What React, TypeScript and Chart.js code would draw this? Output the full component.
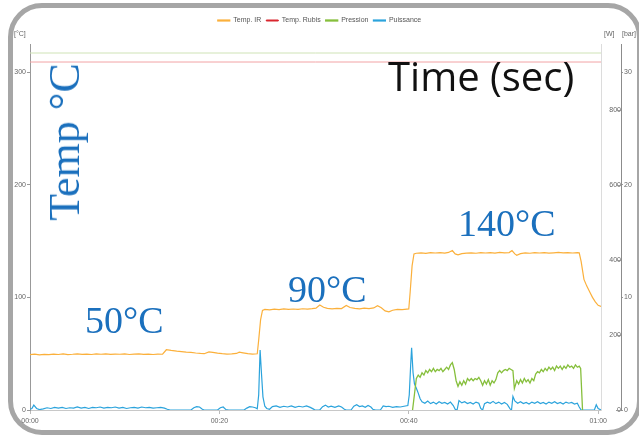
import React, { useEffect, useRef } from "react";
import { Chart, registerables } from "chart.js";

Chart.register(...registerables);

const FONT = "'Liberation Sans', Arial, sans-serif";

// time axis (seconds) and tick labels
const timeTickValues = [0, 20, 40, 60];
const timeTickLabels = ["00:00", "00:20", "00:40", "01:00"];
const tempTickValues = [0, 100, 200, 300];
const powerTickValues = [0, 200, 400, 600, 800];
const pressureTickValues = [0, 10, 20, 30];

const seriesLabels = ["Temp. IR", "Temp. Rubis", "Pression", "Puissance"];
const legendColors = ["#fbb03b", "#d9262e", "#86bf3c", "#2ba3dc"];

// [time s, °C]
const tempIR: [number, number][] = [
  [0, 49.2], [0.5, 49.6], [1, 48.9], [1.5, 49.4], [2, 49.1], [2.5, 49.6], [3, 49.3], [3.5, 49.8], [4, 49.2], [4.5, 49.5],
  [5, 49.9], [5.5, 49.4], [6, 49.7], [6.5, 49.3], [7, 49.8], [7.5, 49.5], [8, 49.9], [8.5, 49.4], [9, 49.7], [9.5, 49.5],
  [10, 49.8], [10.5, 49.3], [11, 49.6], [11.5, 49.9], [12, 49.4], [12.5, 49.7], [13, 49.3], [13.5, 49.6], [14, 49.5],
  [14.4, 53.5], [14.9, 52.9], [15.5, 52.3], [16, 51.9], [16.5, 51.4], [17, 51.1], [17.5, 50.6], [18, 50.2], [18.4, 50.0],
  [18.9, 51.6], [19.3, 51.2], [19.8, 50.5], [20.3, 50.0], [20.8, 49.6], [21.3, 49.8], [21.8, 50.2], [22.1, 51.4],
  [22.5, 50.8], [23, 50.1], [23.5, 49.6], [24, 49.9], [24.15, 62], [24.35, 80], [24.55, 88.5], [24.8, 89.3],
  [25.3, 89.0], [25.8, 89.6], [26.3, 89.2], [26.8, 89.8], [27.3, 89.4], [27.8, 89.7], [28.3, 89.3], [28.8, 89.9],
  [29.3, 89.6], [29.8, 90.0], [30.2, 90.4], [30.6, 93.2], [31.0, 91.2], [31.4, 90.2], [31.9, 89.8], [32.4, 90.3],
  [32.9, 90.1], [33.4, 92.8], [33.8, 91.0], [34.3, 90.2], [34.8, 89.8], [35.3, 90.4], [35.8, 90.1], [36.3, 90.6],
  [36.7, 92.6], [37.1, 90.8], [37.5, 88.0], [37.9, 87.2], [38.3, 88.6], [38.8, 89.4], [39.3, 89.2], [39.8, 89.6],
  [40.0, 89.7], [40.15, 105], [40.35, 128], [40.55, 138.5], [40.8, 139.2], [41.3, 139.5], [41.8, 139.1], [42.3, 139.7],
  [42.8, 139.4], [43.3, 139.8], [43.8, 139.3], [44.2, 139.9], [44.6, 141.6], [44.9, 138.6], [45.2, 137.8], [45.6, 138.9],
  [46.1, 139.3], [46.6, 139.6], [47.1, 139.2], [47.6, 139.8], [48.1, 139.4], [48.6, 139.7], [49.1, 139.3], [49.6, 139.9],
  [50.1, 139.5], [50.6, 139.8], [50.9, 141.6], [51.2, 138.6], [51.4, 137.4], [51.8, 138.9], [52.3, 139.5], [52.8, 139.2],
  [53.3, 139.7], [53.8, 139.4], [54.3, 139.8], [54.8, 139.3], [55.3, 139.6], [55.8, 139.9], [56.3, 139.5], [56.8, 139.8],
  [57.3, 139.4], [57.8, 139.7], [58.0, 139.5], [58.2, 132], [58.5, 116], [58.8, 110], [59.1, 105], [59.4, 100],
  [59.7, 96], [60.0, 93], [60.3, 92],
];

// [time s, °C]
const tempRubis: [number, number][] = [[0, 309], [60.3, 309]];

// [time s, bar]
const pressionTop: [number, number][] = [[0, 31.7], [60.3, 31.7]];
const pression: [number, number][] = [
  [40.4, 0], [40.6, 1.4], [40.8, 2.8], [41.0, 3.1], [41.2, 2.9], [41.4, 3.3], [41.6, 3.1], [41.8, 3.5], [42.0, 3.3],
  [42.2, 3.6], [42.4, 3.4], [42.6, 3.7], [42.8, 3.4], [43.0, 3.6], [43.2, 3.5], [43.4, 3.7], [43.6, 3.4], [43.8, 3.6],
  [44.0, 3.8], [44.2, 3.6], [44.4, 4.0], [44.6, 4.2], [44.8, 3.6], [45.0, 2.6], [45.2, 2.1], [45.4, 2.5], [45.6, 2.2],
  [45.8, 2.6], [46.0, 2.3], [46.2, 2.8], [46.4, 2.6], [46.6, 2.8], [46.8, 2.6], [47.0, 2.8], [47.2, 2.7], [47.4, 2.9],
  [47.6, 2.6], [47.8, 2.2], [48.0, 2.6], [48.2, 2.3], [48.4, 2.7], [48.6, 2.2], [48.8, 2.6], [49.0, 2.4], [49.2, 2.7],
  [49.4, 3.3], [49.6, 3.5], [49.8, 3.3], [50.0, 3.5], [50.2, 3.6], [50.4, 3.5], [50.6, 3.7], [50.8, 3.6], [51.0, 3.5],
  [51.15, 1.9], [51.4, 2.6], [51.6, 2.3], [51.8, 2.7], [52.0, 2.4], [52.2, 2.8], [52.4, 2.5], [52.6, 2.7], [52.8, 2.4],
  [53.0, 2.8], [53.2, 2.6], [53.4, 3.2], [53.6, 3.4], [53.8, 3.3], [54.0, 3.6], [54.2, 3.4], [54.4, 3.7], [54.6, 3.5],
  [54.8, 3.8], [55.0, 3.6], [55.2, 3.8], [55.4, 3.5], [55.6, 3.9], [55.8, 3.7], [56.0, 3.9], [56.2, 3.6], [56.4, 3.9],
  [56.6, 3.7], [56.8, 4.0], [57.0, 3.8], [57.2, 3.9], [57.4, 3.7], [57.6, 4.0], [57.8, 3.8], [58.0, 3.9], [58.15, 3.7],
  [58.35, 0],
];

// [time s, W]
const puissance: [number, number][] = [
  [0, 2], [0.2, 4], [0.4, 13], [0.7, 4], [1.0, 1], [1.4, 3], [1.8, 6], [2.2, 4], [2.6, 7], [3.0, 5], [3.4, 7], [3.8, 4],
  [4.2, 6], [4.6, 5], [5.0, 8], [5.4, 5], [5.8, 7], [6.2, 4], [6.6, 7], [7.0, 6], [7.4, 8], [7.8, 5], [8.2, 7], [8.6, 6],
  [9.0, 8], [9.4, 5], [9.8, 7], [10.2, 4], [10.6, 6], [11.0, 7], [11.4, 5], [11.8, 8], [12.2, 6], [12.6, 7], [13.0, 5],
  [13.4, 6], [13.8, 7], [14.2, 5], [14.5, 2], [14.8, 0], [17.0, 0], [17.3, 6], [17.6, 9], [17.9, 8], [18.2, 2], [18.4, 0],
  [19.8, 0], [20.1, 6], [20.4, 8], [20.7, 1], [21.0, 0], [22.6, 0], [22.9, 5], [23.2, 9], [23.5, 8], [23.8, 6], [24.0, 3],
  [24.15, 40], [24.3, 160], [24.45, 95], [24.6, 35], [24.8, 10], [25.0, 4], [25.3, 2], [25.6, 9], [26.0, 11], [26.4, 7],
  [26.8, 10], [27.2, 8], [27.6, 11], [28.0, 7], [28.4, 10], [28.8, 8], [29.2, 11], [29.6, 7], [29.9, 3], [30.1, 0],
  [30.6, 0], [30.9, 9], [31.2, 13], [31.5, 8], [31.8, 10], [32.2, 7], [32.6, 11], [32.9, 8], [33.2, 2], [33.4, 0],
  [33.9, 0], [34.2, 10], [34.5, 14], [34.8, 9], [35.1, 11], [35.4, 7], [35.7, 12], [36.0, 8], [36.2, 2], [36.5, 0],
  [37.0, 0], [37.3, 11], [37.6, 9], [37.9, 10], [38.3, 7], [38.7, 9], [39.1, 8], [39.5, 10], [39.9, 12], [40.05, 40],
  [40.2, 120], [40.3, 166], [40.45, 100], [40.6, 70], [40.8, 58], [41.0, 45], [41.2, 30], [41.4, 22], [41.7, 18],
  [42.0, 24], [42.3, 17], [42.6, 21], [42.9, 16], [43.2, 22], [43.5, 18], [43.8, 20], [44.1, 16], [44.4, 21], [44.7, 12],
  [44.9, 2], [45.1, 0], [45.3, 25], [45.6, 19], [45.9, 22], [46.2, 17], [46.5, 20], [46.8, 16], [47.1, 21], [47.4, 18],
  [47.6, 4], [47.8, 0], [48.0, 17], [48.3, 21], [48.6, 18], [48.9, 23], [49.2, 17], [49.5, 21], [49.8, 16], [50.1, 20],
  [50.4, 15], [50.7, 3], [50.85, 0], [51.0, 36], [51.2, 24], [51.5, 18], [51.8, 22], [52.1, 17], [52.4, 20], [52.7, 16],
  [53.0, 21], [53.3, 18], [53.6, 22], [53.9, 17], [54.2, 20], [54.5, 16], [54.8, 21], [55.1, 18], [55.4, 22], [55.7, 17],
  [56.0, 20], [56.3, 16], [56.6, 21], [56.9, 18], [57.2, 20], [57.5, 16], [57.8, 18], [58.0, 8], [58.2, 0], [59.6, 0],
  [59.8, 14], [60.0, 4], [60.3, 0],
];

const toPoints = (arr: [number, number][]) => arr.map(([x, y]) => ({ x, y }));

const wTickDashes = {
  id: "wTickDashes",
  afterDraw(chart: any) {
    const s = chart.scales.yW;
    if (!s) return;
    const ctx = chart.ctx;
    ctx.save();
    ctx.strokeStyle = "#999";
    ctx.lineWidth = 1;
    s.ticks.forEach((t: any) => {
      const y = Math.round(s.getPixelForValue(t.value)) + 0.5;
      ctx.beginPath();
      ctx.moveTo(s.right - 5, y);
      ctx.lineTo(s.right, y);
      ctx.stroke();
    });
    ctx.restore();
  },
};

export default function App() {
  const ref = useRef<HTMLCanvasElement | null>(null);

  useEffect(() => {
    if (!ref.current) return;
    const common = { xAxisID: "x", pointRadius: 0, tension: 0 };
    const chart = new Chart(ref.current, {
      type: "line",
      data: {
        datasets: [
          { ...common, label: seriesLabels[0], data: toPoints(tempIR), yAxisID: "yT", borderColor: "#fbb03b", borderWidth: 1.2 },
          { ...common, label: seriesLabels[1], data: toPoints(tempRubis), yAxisID: "yT", borderColor: "#f2a3a5", borderWidth: 1 },
          { ...common, label: seriesLabels[2], data: toPoints(pression), yAxisID: "yB", borderColor: "#86bf3c", borderWidth: 1.3 },
          { ...common, label: seriesLabels[3], data: toPoints(puissance), yAxisID: "yW", borderColor: "#2ba3dc", borderWidth: 1.2 },
          { ...common, label: "", data: toPoints(pressionTop), yAxisID: "yB", borderColor: "#cfe3b6", borderWidth: 1 },
        ],
      },
      options: {
        animation: false,
        responsive: false,
        maintainAspectRatio: false,
        events: [],
        layout: { padding: { top: 12, left: 0, right: 0, bottom: 0 } },
        plugins: {
          legend: {
            position: "top",
            labels: {
              boxWidth: 12,
              boxHeight: 1,
              padding: 5,
              color: "#555",
              font: { family: FONT, size: 7 },
              filter: (item: any) => item.text !== "",
              generateLabels: (chart: any) => {
                const items = Chart.defaults.plugins.legend.labels.generateLabels(chart);
                return items.map((it: any, i: number) => ({
                  ...it,
                  fillStyle: legendColors[i] ?? it.fillStyle,
                  strokeStyle: legendColors[i] ?? it.strokeStyle,
                }));
              },
            },
          },
          tooltip: { enabled: false },
        },
        scales: {
          x: {
            type: "linear",
            position: "bottom",
            min: 0,
            max: 60.3,
            afterBuildTicks: (s: any) => { s.ticks = timeTickValues.map((v) => ({ value: v })); },
            ticks: {
              color: "#666",
              font: { family: FONT, size: 7 },
              padding: 3,
              maxRotation: 0,
              callback: (_v: any, i: number) => timeTickLabels[i],
            },
            grid: { drawOnChartArea: false, tickLength: 4, color: "#bbb" },
            border: { color: "#c8c8c8" },
            afterFit: (s: any) => { s.height = 27; },
          },
          spacer: {
            type: "linear",
            position: "top",
            display: true,
            min: 0,
            max: 1,
            ticks: { display: false },
            grid: { display: false },
            border: { display: false },
            afterFit: (s: any) => { s.height = 10; },
          },
          yT: {
            type: "linear",
            position: "left",
            min: 0,
            max: 325,
            afterBuildTicks: (s: any) => { s.ticks = tempTickValues.map((v) => ({ value: v })); },
            ticks: { color: "#666", font: { family: FONT, size: 7 }, padding: 1 },
            grid: { drawOnChartArea: false, tickLength: 3, color: "#999" },
            border: { color: "#999" },
            afterFit: (s: any) => { s.width = 30; },
          },
          yW: {
            type: "linear",
            position: "right",
            min: 0,
            max: 975,
            afterBuildTicks: (s: any) => { s.ticks = powerTickValues.map((v) => ({ value: v })); },
            ticks: { color: "#666", font: { family: FONT, size: 7 }, padding: 4, crossAlign: "far" },
            grid: { drawOnChartArea: false, drawTicks: false },
            border: { color: "#dcdcdc" },
            afterFit: (s: any) => { s.width = 20; },
          },
          yB: {
            type: "linear",
            position: "right",
            min: 0,
            max: 32.5,
            afterBuildTicks: (s: any) => { s.ticks = pressureTickValues.map((v) => ({ value: v })); },
            ticks: { color: "#666", font: { family: FONT, size: 7 }, padding: 1 },
            grid: { drawOnChartArea: false, tickLength: 2, color: "#999" },
            border: { color: "#8c8c8c" },
            afterFit: (s: any) => { s.width = 18; },
          },
        },
      } as any,
      plugins: [wTickDashes],
    });
    return () => chart.destroy();
  }, []);

  const unitStyle: React.CSSProperties = {
    position: "absolute",
    font: `7px ${FONT}`,
    color: "#666",
    lineHeight: "8px",
    whiteSpace: "nowrap",
  };
  const blueText: React.CSSProperties = {
    position: "absolute",
    fontFamily: "'Liberation Serif', 'Times New Roman', serif",
    color: "#1b70bd",
    lineHeight: 1,
    whiteSpace: "nowrap",
  };

  return (
    <div style={{ position: "absolute", left: 0, top: 0, width: 639, height: 437, overflow: "hidden", background: "#fff" }}>
      <div
        style={{
          position: "absolute",
          left: 8,
          top: 3,
          width: 634,
          height: 432,
          boxSizing: "border-box",
          border: "5px solid #a6a6a6",
          borderRadius: 34,
        }}
      />
      <canvas ref={ref} width={639} height={437} style={{ position: "absolute", left: 0, top: 0, display: "block" }} />
      <div style={{ ...unitStyle, left: 14, top: 30 }}>[°C]</div>
      <div style={{ ...unitStyle, left: 604, top: 30 }}>[W]</div>
      <div style={{ ...unitStyle, left: 622, top: 30 }}>[bar]</div>
      <div
        style={{
          ...blueText,
          fontSize: 44,
          left: 65,
          top: 142,
          transform: "translate(-50%, -50%) rotate(-90deg)",
        }}
      >
        Temp °C
      </div>
      <div
        style={{
          position: "absolute",
          left: 388,
          top: 56,
          fontFamily: "'Open Sans', 'Noto Sans', sans-serif",
          fontSize: 40,
          lineHeight: 1,
          color: "#111",
          whiteSpace: "nowrap",
        }}
      >
        Time (sec)
      </div>
      <div style={{ ...blueText, fontSize: 38, left: 85, top: 301 }}>50°C</div>
      <div style={{ ...blueText, fontSize: 38, left: 288, top: 270 }}>90°C</div>
      <div style={{ ...blueText, fontSize: 38, left: 458, top: 204 }}>140°C</div>
    </div>
  );
}
